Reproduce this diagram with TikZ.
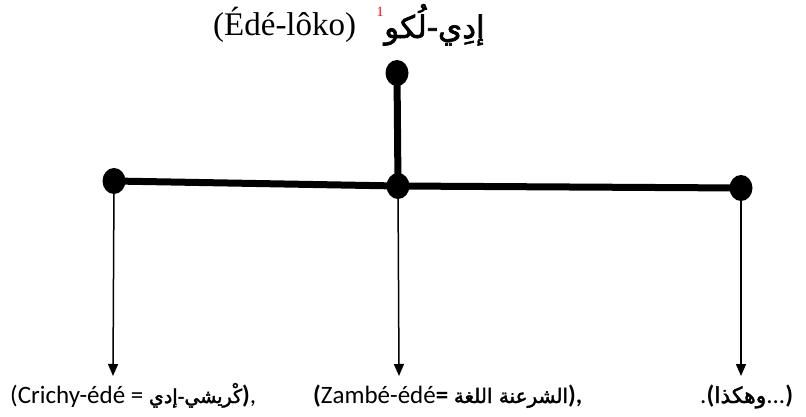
\documentclass[tikz,border=0pt]{standalone}
\usepackage{fontspec}
\setmainfont{Liberation Serif}
\newfontfamily\calib{Carlito}
\newfontfamily\arabicfont[Script=Arabic]{DejaVu Sans}
\newfontfamily\arabicbf[Script=Arabic,FakeBold=2]{DejaVu Sans}
\TeXXeTstate=1
\usetikzlibrary{arrows.meta,shapes.geometric}
\tikzset{
  dotnode/.style={ellipse,fill=black,draw=none,minimum width=23pt,minimum height=26pt,inner sep=0pt},
  trunk/.style={line width=7pt},
  arr/.style={line width=1.5pt,-{Triangle[length=12pt,width=10pt]}},
  bottomtext/.style={anchor=base west,inner sep=0pt,font=\calib\fontsize{25}{30}\selectfont},
}
\begin{document}
\begin{tikzpicture}[x=1pt,y=-1pt]
\useasboundingbox (0,0) rectangle (806,417);
% title
\node[anchor=base west,inner sep=0pt,font=\fontsize{33}{38}\selectfont] (title) at (213,36) {(Édé-lôko)};
\node[anchor=center,inner sep=0pt,text=red,font=\fontsize{14}{16}\selectfont] (fn) at (380,12) {1};
\node[anchor=base west,inner sep=0pt,font=\arabicbf\fontsize{31}{34}\selectfont] (titlear) at (384,38) {\beginR إدِي-لُكو\endR};
% dots
\node[dotnode] (top) at (397,73) {};
\node[dotnode] (L) at (114,181) {};
\node[dotnode] (M) at (398,186) {};
\node[dotnode] (R) at (741,188) {};
\draw[trunk] (L.center) -- (M.center) -- (R.center);
\draw[trunk] (top.center) -- (M.center);
% arrow ends
\coordinate (Le) at (113,376);
\coordinate (Me) at (399,376);
\coordinate (Re) at (741,376);
\draw[arr] (L.center) -- (Le);
\draw[arr] (M.center) -- (Me);
\draw[arr] (R.center) -- (Re);
% bottom texts
\node[bottomtext] (t1) at (10,403) {(Crichy-édé = {\arabicbf\fontsize{19}{22}\selectfont\beginR كْريشي-إدي\endR}\textbf{)},};
\node[bottomtext] (t2) at (313,403) {\textbf{(}Zambé-édé\textbf{=} {\arabicbf\fontsize{20}{22}\selectfont\beginR الشرعنة اللغة\endR}\textbf{),}};
\node[bottomtext] (t3) at (700,403) {.\textbf{(}{\arabicbf\fontsize{22}{24}\selectfont\beginR وهكذا\endR}...\textbf{)}};
\end{tikzpicture}
\end{document}
